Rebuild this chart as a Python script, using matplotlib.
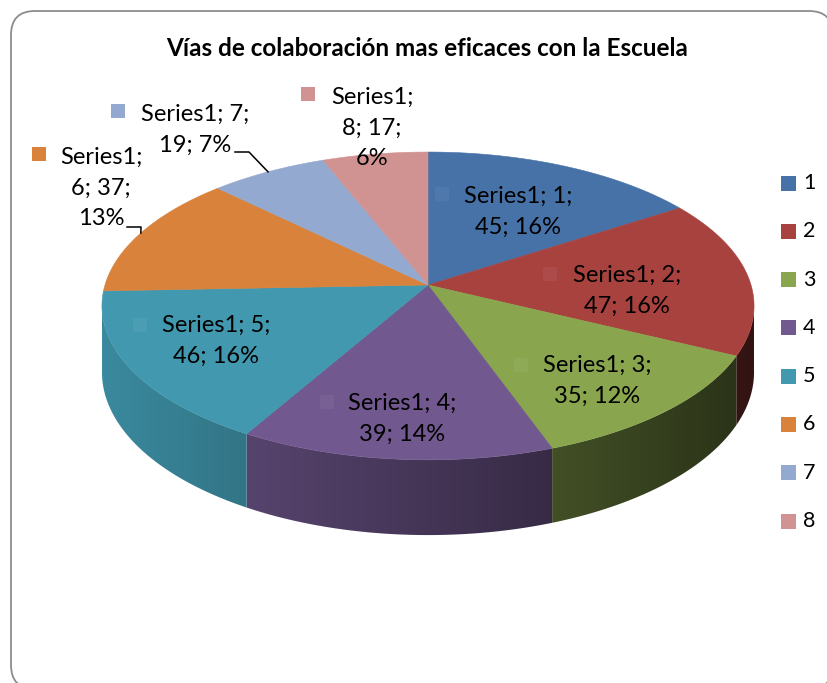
import numpy as np
import matplotlib.pyplot as plt
from matplotlib.patches import Polygon, Rectangle, FancyBboxPatch
from matplotlib.colors import to_rgb

plt.rcParams['font.family'] = ['Lato', 'DejaVu Sans']

# data
title = 'Vías de colaboración mas eficaces con la Escuela'
series = 'Series1'
categories = ['1', '2', '3', '4', '5', '6', '7', '8']
values = [45, 47, 35, 39, 46, 37, 19, 17]
colors = ['#4672A8', '#A8423F', '#89A54E', '#71588F',
          '#4198AF', '#D9823B', '#93A9CF', '#D19392']

# label layout (pixel positions of text centre and key square)
label_pos = [(518, 212), (627, 291), (597, 381), (402, 419),
             (216, 341), (101, 188), (195, 130), (372, 128)]
key_pos = [(435, 187), (543, 267), (514, 358), (320, 395),
           (133, 318), (32, 147), (111, 104), (301, 87)]
three_lines = [False, False, False, False, False, True, False, True]
outside = [False, False, False, False, False, True, True, True]
leader_start = {5: (127, 227), 6: (235, 152)}

# 3d pie projection (pixel space)
CX, CY = 428, 285
A, B, E, H = 323, 112.3, 0.136, 65


def proj(t, drop=0.0):
    u = np.sin(t)
    v = -np.cos(t)
    d = 1 - E * v
    return CX + A * u / d, (CY + B * v + drop) / d


fig = plt.figure(figsize=(8.28, 6.83), dpi=100)
ax = fig.add_axes([0, 0, 1, 1])
ax.set_xlim(0, 828)
ax.set_ylim(683, 0)
ax.axis('off')

ax.add_patch(FancyBboxPatch((11, 11), 822, 678,
                            boxstyle='round,pad=0,rounding_size=24',
                            ec='#8c8c8c', fc='white', lw=1.3))

total = sum(values)
edges = np.concatenate([[0], np.cumsum(values)]) / total * 2 * np.pi

# side walls: visible front part of each slice, shaded left->right
gx = np.linspace(90, 770, 400)
shade = np.clip(0.6 - 0.3 * (gx - CX) / A, 0.25, 0.95)
for i in range(len(values)):
    ts = np.linspace(edges[i], edges[i + 1], 300)
    ts = ts[-np.cos(ts) > 0.12]
    if len(ts) < 2:
        continue
    tx, ty = proj(ts)
    bx, by = proj(ts[::-1], H)
    pts = list(zip(tx, ty)) + list(zip(bx, by))
    poly = Polygon(pts, closed=True, fc='none', ec='none', zorder=2)
    ax.add_patch(poly)
    base = np.array(to_rgb(colors[i]))
    img = np.clip(shade[None, :, None] * base[None, None, :], 0, 1)
    img = np.repeat(img, 2, axis=0)
    im = ax.imshow(img, extent=(90, 770, 560, 140), aspect='auto',
                   interpolation='bilinear', zorder=2)
    im.set_clip_path(poly)

ax.set_xlim(0, 828)
ax.set_ylim(683, 0)

# top faces
for i in range(len(values)):
    ts = np.linspace(edges[i], edges[i + 1], 200)
    xs, ys = proj(ts)
    pts = [(CX, CY)] + list(zip(xs, ys))
    ax.add_patch(Polygon(pts, closed=True, fc=colors[i], ec=colors[i],
                         lw=0.4, zorder=3))

# data labels
for i, (cat, val) in enumerate(zip(categories, values)):
    pct = round(val / total * 100)
    if three_lines[i]:
        txt = f'{series};\n{cat}; {val};\n{pct}%'
    else:
        txt = f'{series}; {cat};\n{val}; {pct}%'
    x, y = label_pos[i]
    ax.text(x, y, txt, ha='center', va='center', multialignment='center',
            fontsize=17, linespacing=1.55, color='black', zorder=5)
    kc = np.array(to_rgb(colors[i]))
    if not outside[i]:
        kc = kc + (1 - kc) * 0.05
    kx, ky = key_pos[i]
    ax.add_patch(Rectangle((kx, ky), 14, 14, fc=kc, ec='none', zorder=4))
    if i in leader_start:
        tm = (edges[i] + edges[i + 1]) / 2
        ex, ey = proj(tm)
        sx, sy = leader_start[i]
        ax.plot([sx, sx + 14, ex], [sy, sy, ey], color='black', lw=1.1,
                zorder=5)

# legend
for i, cat in enumerate(categories):
    ly = 183 + i * 48.3
    ax.add_patch(Rectangle((781, ly - 7.5), 15, 15, fc=colors[i], ec='none'))
    ax.text(803, ly, cat, ha='left', va='center', fontsize=15.5)

ax.text(427, 48, title, ha='center', va='center', fontsize=17.5,
        fontweight='bold')

fig.savefig('out.png', dpi=100)
